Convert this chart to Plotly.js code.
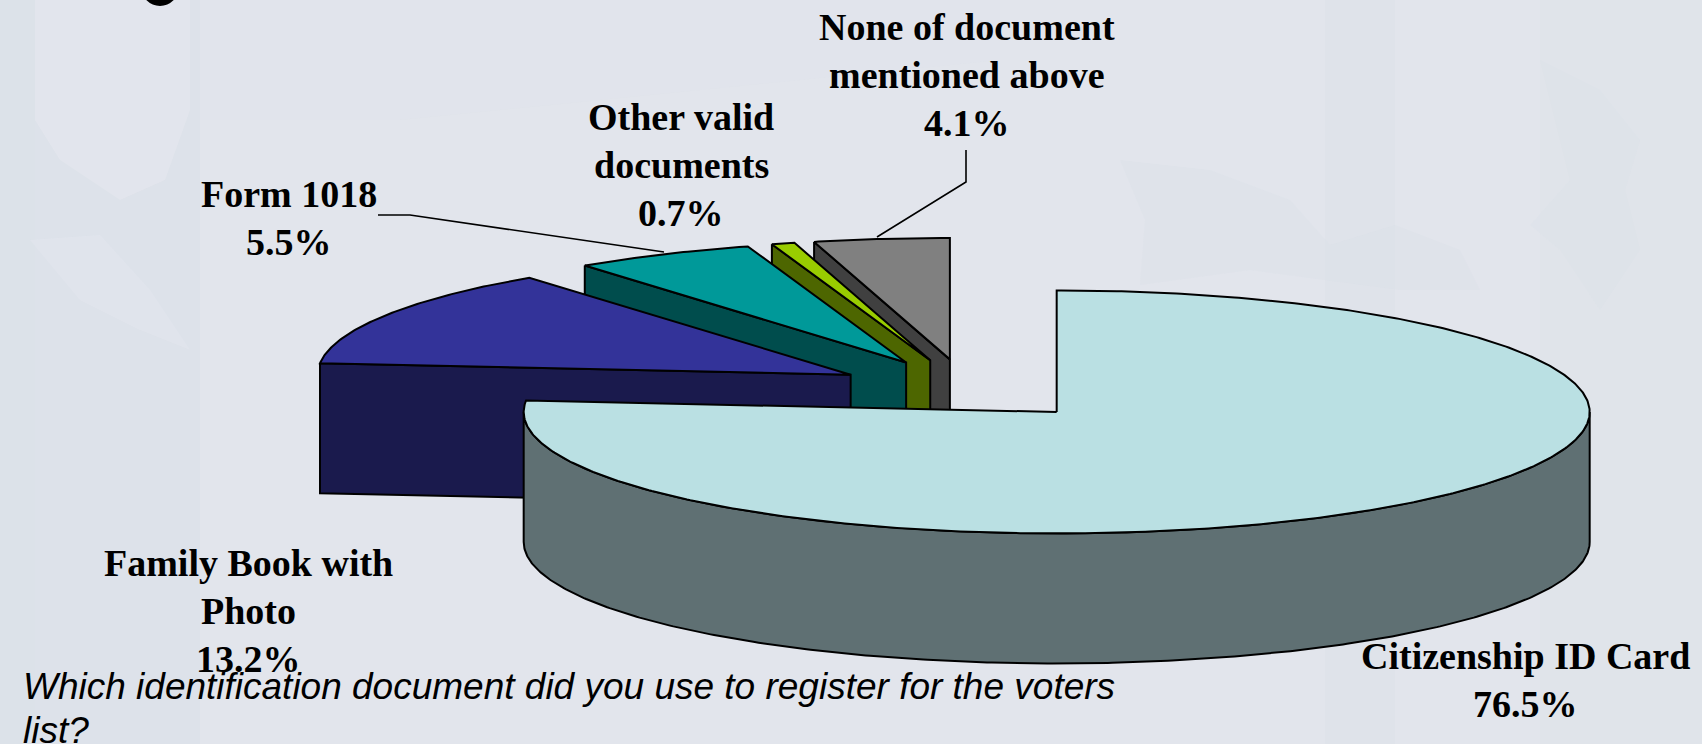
<!DOCTYPE html>
<html>
<head>
<meta charset="utf-8">
<script src="https://cdn.plot.ly/plotly-3.0.1.min.js"></script>
<style>
html,body{margin:0;padding:0;background:#e2e5ec;overflow:hidden}
#chart{width:1702px;height:744px}
</style>
</head>
<body>
<div id="chart"></div>
<script>
// Survey shares, in the clockwise order the slices are laid out from 12 o'clock.
const categories = ['Citizenship ID Card', 'Family Book with Photo', 'Form 1018', 'Other valid documents', 'None of document mentioned above'];
const shares = [76.5, 13.2, 5.5, 0.7, 4.1];
const topColors = ['#bae0e3', '#333399', '#009999', '#99cc00', '#808080'];
const wallColors = ['#5f7073', '#1a1a4d', '#004d4d', '#4d6600', '#404040'];
const labelLines = [
  ['Citizenship ID Card'],
  ['Family Book with', 'Photo'],
  ['Form 1018'],
  ['Other valid', 'documents'],
  ['None of document', 'mentioned above']
];
const labelAnchors = [[1525, 656], [248, 563], [289, 194], [681, 117], [967, 27]];
const captionLines = ['Which identification document did you use to register for the voters', 'list?'];

// Projection of the tilted, exploded pie onto the page (axes run in page pixels).
const cx = 967, cy = 389.5, rx = 533, ry = 121.5, depth = 130, explode = 0.25;
const lineStyle = {color: '#000', width: 2};
const rad = d => d * Math.PI / 180;
const rim = (c, a) => [c[0] + rx * Math.sin(rad(a)), c[1] - ry * Math.cos(rad(a))];

// Start and end angle of every slice, plus its displaced apex.
let running = 0;
const slices = shares.map((v, i) => {
  const a0 = running * 3.6;
  running += v;
  const a1 = running * 3.6;
  const mid = (a0 + a1) / 2;
  return {i, a0, a1, apex: [cx + explode * rx * Math.sin(rad(mid)), cy - explode * ry * Math.cos(rad(mid))]};
});

function arc(c, a0, a1, dy) {
  const xs = [], ys = [];
  const n = Math.max(4, Math.ceil((a1 - a0) * 2));
  for (let k = 0; k <= n; k++) {
    const p = rim(c, a0 + (a1 - a0) * k / n);
    xs.push(p[0]); ys.push(p[1] + dy);
  }
  return [xs, ys];
}

function poly(xs, ys, color, name) {
  return {type: 'scatter', mode: 'lines', x: xs, y: ys, fill: 'toself', fillcolor: color,
    line: lineStyle, hoverinfo: 'text', text: name, showlegend: false};
}

const traces = [];
// Small slices are painted back to front, the large one last.
[4, 3, 2, 1].forEach(i => {
  const s = slices[i], e = rim(s.apex, s.a0);
  traces.push(poly([e[0], s.apex[0], s.apex[0], e[0], e[0]],
    [e[1], s.apex[1], s.apex[1] + depth, e[1] + depth, e[1]], wallColors[i], categories[i]));
  const t = arc(s.apex, s.a0, s.a1, 0);
  traces.push(poly([s.apex[0], ...t[0], s.apex[0]], [s.apex[1], ...t[1], s.apex[1]], topColors[i], categories[i]));
});
const big = slices[0];
const upper = arc(big.apex, 90, 270, 0), lower = arc(big.apex, 90, 270, depth);
traces.push(poly([...upper[0], ...lower[0].slice().reverse(), upper[0][0]],
  [...upper[1], ...lower[1].slice().reverse(), upper[1][0]], wallColors[0], categories[0]));
const bt = arc(big.apex, big.a0, big.a1, 0);
traces.push(poly([big.apex[0], ...bt[0], big.apex[0]], [big.apex[1], ...bt[1], big.apex[1]], topColors[0], categories[0]));

// Value labels, one line per annotation so the leading stays exact.
const annotations = [];
const serif = {family: '"Liberation Serif", serif', size: 38, color: '#000'};
const lineGap = 48;
slices.forEach(s => {
  const lines = labelLines[s.i].concat([shares[s.i].toFixed(1) + '%']);
  lines.forEach((txt, k) => annotations.push({
    xref: 'x', yref: 'y', x: labelAnchors[s.i][0], y: labelAnchors[s.i][1] + k * lineGap,
    text: '<b>' + txt + '</b>', showarrow: false, xanchor: 'center', yanchor: 'middle', font: serif
  }));
});
captionLines.forEach((txt, k) => annotations.push({
  xref: 'x', yref: 'y', x: 21, y: 686 + k * 44, text: '<i>' + txt + '</i>', showarrow: false,
  xanchor: 'left', yanchor: 'middle', font: {family: '"Liberation Sans", sans-serif', size: 37, color: '#000'}
}));

// Leader lines and the faint backdrop artwork.
const leader = (pts) => ({type: 'path', xref: 'x', yref: 'y', line: {color: '#000', width: 1.6},
  path: 'M' + pts.map(p => p.join(',')).join('L')});
const band = (x0, x1, color, opacity) => ({type: 'rect', xref: 'x', yref: 'y', layer: 'below',
  x0, x1, y0: 0, y1: 744, fillcolor: color, opacity, line: {width: 0}});
const blob = (path, color, opacity) => ({type: 'path', xref: 'x', yref: 'y', layer: 'below', path,
  fillcolor: color, opacity, line: {width: 0}});
const shapes = [
  band(0, 35, '#d8dfe8', 0.6), band(35, 170, '#dce1ea', 0.7), band(170, 200, '#d8e0e8', 0.5),
  band(1325, 1395, '#dde1e9', 0.55), band(1540, 1702, '#dfe3ea', 0.6),
  blob('M200,0 L1000,0 L1000,60 L700,90 L400,120 L200,120 Z', '#e0e4ec', 0.5),
  blob('M35,0 L190,0 L190,110 L165,180 L120,200 L60,160 L35,120 Z', '#e6e8ee', 0.6),
  blob('M30,240 L100,235 L150,290 L190,350 L140,330 L80,300 Z', '#e4e7ef', 0.45),
  blob('M1120,160 L1210,170 L1290,200 L1330,245 L1395,225 L1460,250 L1480,290 L1400,290 L1250,270 L1140,285 L1145,220 Z', '#d9dee7', 0.28),
  blob('M1540,60 L1600,90 L1640,140 L1625,190 L1640,250 L1600,310 L1560,250 L1530,225 L1570,180 Z', '#d9dee7', 0.25),
  {type: 'circle', xref: 'x', yref: 'y', x0: 141, x1: 179, y0: -33, y1: 6, fillcolor: '#000', line: {width: 0}},
  leader([[378, 215], [410, 215], [664, 252]]),
  leader([[966, 150], [966, 182], [877, 237]])
];

const hidden = {visible: false, fixedrange: true};
Plotly.newPlot('chart', traces, {
  width: 1702, height: 744, margin: {l: 0, r: 0, t: 0, b: 0},
  paper_bgcolor: '#e2e5ec', plot_bgcolor: 'rgba(0,0,0,0)',
  xaxis: {...hidden, range: [0, 1702]},
  yaxis: {...hidden, range: [744, 0]},
  showlegend: false, annotations, shapes, hovermode: 'closest'
}, {displayModeBar: false});
</script>
</body>
</html>
